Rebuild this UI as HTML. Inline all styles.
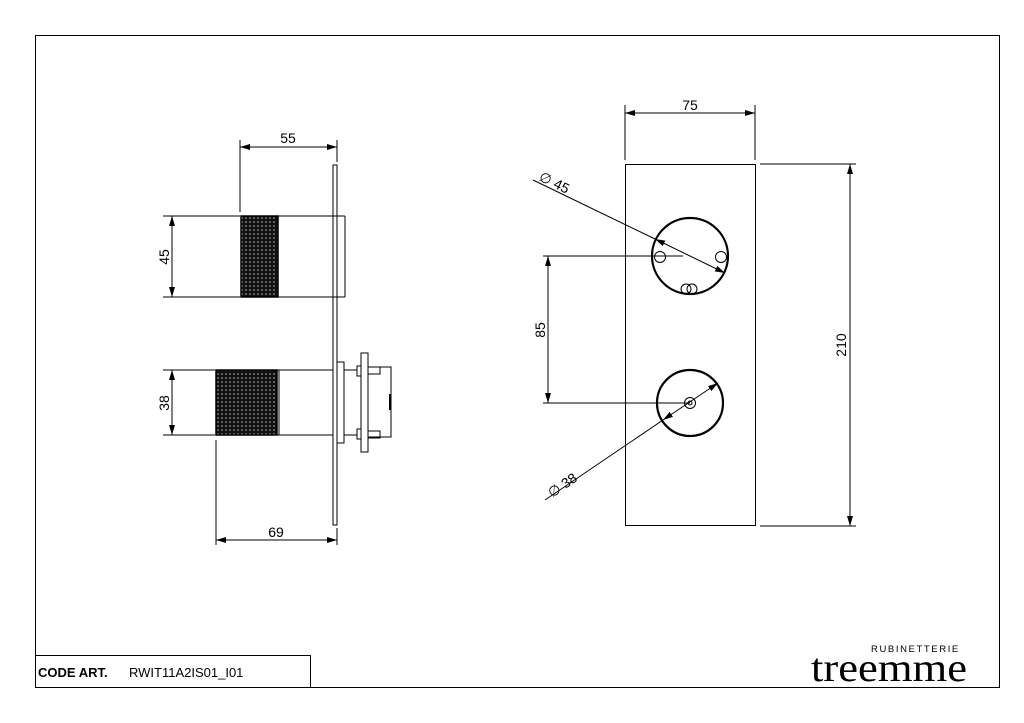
<!DOCTYPE html>
<html><head><meta charset="utf-8"><style>
html,body{margin:0;padding:0;background:#fff;width:1024px;height:723px;overflow:hidden}
svg{display:block}
text{font-family:"Liberation Sans",sans-serif;fill:#000}
</style></head><body>
<svg width="1024" height="723" viewBox="0 0 1024 723" xmlns="http://www.w3.org/2000/svg">
<defs>
<pattern id="kn" width="4" height="4" patternUnits="userSpaceOnUse">
<rect width="4" height="4" fill="#111"/><circle cx="2" cy="2" r="0.8" fill="#bbb"/>
</pattern>
<marker id="a" viewBox="0 0 10 6" refX="10" refY="3" markerWidth="10" markerHeight="6" orient="auto-start-reverse" markerUnits="userSpaceOnUse"><path d="M0,0 L10,3 L0,6 z" fill="#000"/></marker>
</defs>
<g fill="none" stroke="#000" stroke-width="1">
<rect x="35.5" y="35.5" width="964" height="652"/>
<rect x="35.5" y="655.5" width="275" height="32"/>
<rect x="333" y="165" width="4" height="360"/>
<line x1="241" y1="216" x2="345" y2="216"/>
<line x1="241" y1="297" x2="345" y2="297"/>
<line x1="345" y1="216" x2="345" y2="297"/>
<rect x="241" y="216" width="37" height="81" fill="url(#kn)" stroke="#000" stroke-width="1.5"/>
<line x1="216" y1="370" x2="333" y2="370"/>
<line x1="216" y1="435" x2="333" y2="435"/>
<rect x="216" y="370" width="61" height="65" fill="url(#kn)" stroke="#000" stroke-width="1.5"/>
<line x1="279" y1="370" x2="279" y2="435"/>
<rect x="337" y="362" width="7" height="81"/>
<line x1="344" y1="370" x2="357" y2="370"/><line x1="344" y1="435" x2="357" y2="435"/>
<rect x="357" y="366" width="4" height="10"/><rect x="357" y="429" width="4" height="10"/>
<rect x="361" y="353" width="7" height="99"/>
<rect x="368" y="367" width="12" height="7"/><rect x="368" y="431" width="12" height="7"/>
<polyline points="368,367 391,367 391,437 368,437"/>
<line x1="390" y1="394" x2="390" y2="410" stroke-width="2"/>
<line x1="240" y1="140" x2="240" y2="212"/><line x1="337" y1="140" x2="337" y2="162"/>
<line x1="240" y1="147" x2="337" y2="147" marker-start="url(#a)" marker-end="url(#a)"/>
<line x1="163" y1="216" x2="240" y2="216"/><line x1="163" y1="297" x2="240" y2="297"/>
<line x1="172" y1="216" x2="172" y2="297" marker-start="url(#a)" marker-end="url(#a)"/>
<line x1="163" y1="370" x2="215" y2="370"/><line x1="163" y1="435" x2="215" y2="435"/>
<line x1="172" y1="370" x2="172" y2="435" marker-start="url(#a)" marker-end="url(#a)"/>
<line x1="216" y1="440" x2="216" y2="545"/><line x1="337" y1="528" x2="337" y2="545"/>
<line x1="216" y1="540" x2="337" y2="540" marker-start="url(#a)" marker-end="url(#a)"/>
<rect x="625.5" y="164.5" width="130" height="361"/>
<circle cx="690" cy="256" r="38" stroke-width="2.2"/>
<circle cx="660" cy="257" r="5.5"/><circle cx="721" cy="257" r="5.5"/>
<circle cx="686" cy="289" r="5"/><circle cx="692" cy="289" r="5"/>
<circle cx="690" cy="403" r="33" stroke-width="2.2"/>
<circle cx="690" cy="403" r="5.5"/><circle cx="690" cy="403" r="2"/>
<line x1="625" y1="105" x2="625" y2="160"/><line x1="755" y1="105" x2="755" y2="160"/>
<line x1="625" y1="113" x2="755" y2="113" marker-start="url(#a)" marker-end="url(#a)"/>
<line x1="760" y1="164" x2="856" y2="164"/><line x1="760" y1="526" x2="856" y2="526"/>
<line x1="850" y1="164" x2="850" y2="526" marker-start="url(#a)" marker-end="url(#a)"/>
<line x1="543" y1="256" x2="683" y2="256"/><line x1="543" y1="403" x2="690" y2="403"/>
<line x1="548" y1="256" x2="548" y2="403" marker-start="url(#a)" marker-end="url(#a)"/>
<line x1="533" y1="180" x2="655" y2="239"/>
<line x1="655" y1="239" x2="725" y2="273" marker-start="url(#a)" marker-end="url(#a)"/>
<line x1="545" y1="500" x2="663" y2="420"/>
<line x1="663" y1="420" x2="718" y2="383" marker-start="url(#a)" marker-end="url(#a)"/>
</g>
<text x="288" y="143" font-size="14" text-anchor="middle">55</text>
<text x="276" y="537" font-size="14" text-anchor="middle">69</text>
<text x="169" y="257" font-size="14" text-anchor="middle" transform="rotate(-90 169 257)">45</text>
<text x="169" y="403" font-size="14" text-anchor="middle" transform="rotate(-90 169 403)">38</text>
<text x="690" y="110" font-size="14" text-anchor="middle">75</text>
<text x="846" y="345" font-size="14" text-anchor="middle" transform="rotate(-90 846 345)">210</text>
<text x="545" y="330" font-size="14" text-anchor="middle" transform="rotate(-90 545 330)">85</text>
<text x="538" y="180" font-size="14" transform="rotate(26 538 180)">∅ 45</text>
<text x="552" y="498" font-size="14" transform="rotate(-34 552 498)">∅ 38</text>
<text x="38" y="677" font-size="13" font-weight="bold">CODE ART.</text>
<text x="129" y="677" font-size="13">RWIT11A2IS01_I01</text>
<text x="871" y="652" font-size="9.5" letter-spacing="1.6">RUBINETTERIE</text>
<text x="811" y="681" font-size="40" style="font-family:'Liberation Serif',serif" textLength="156" lengthAdjust="spacingAndGlyphs">treemme</text>
</svg>
</body></html>
